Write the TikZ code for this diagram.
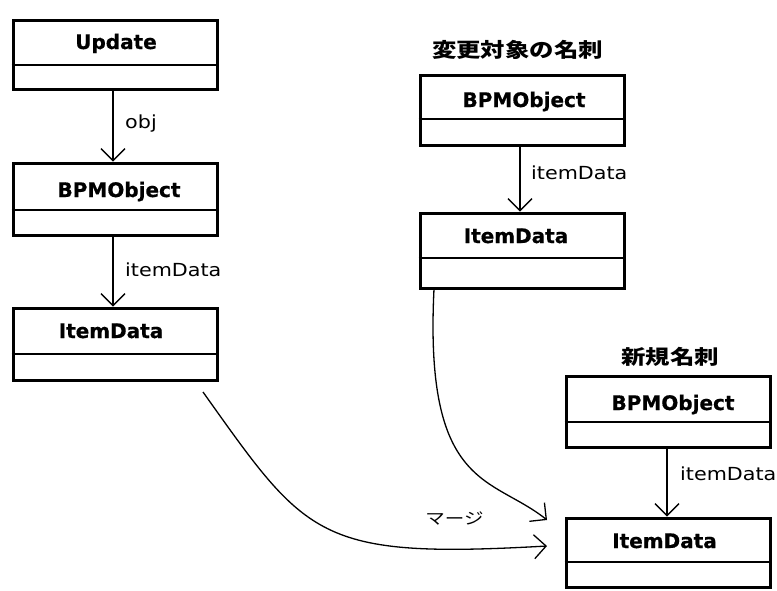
\documentclass[tikz,border=0pt]{standalone}
\usepackage{fontspec}
\usetikzlibrary{arrows.meta}
\newfontfamily\classfont[FakeBold=0.6]{DejaVu Sans Bold}
\newfontfamily\labelfont[FakeStretch=1.15]{DejaVu Sans}
\newfontfamily\jpfont[FakeStretch=1.22]{Noto Sans CJK JP}

\tikzset{
  classbox/.style={draw, line width=3pt, minimum width=204pt, inner sep=0pt, anchor=north west},
  divider/.style={line width=1.2pt},
  classname/.style={font=\classfont\fontsize{20}{24}\selectfont, anchor=base, inner sep=0pt},
  assoc/.style={line width=1.3pt, -{Straight Barb[length=12pt,width=24pt]}},
  rolelabel/.style={font=\labelfont\fontsize{18}{22}\selectfont, anchor=base west, inner sep=0pt},
  grouptitle/.style={font=\jpfont\bfseries\fontsize{20}{24}\selectfont, anchor=base, inner sep=0pt},
  mergelabel/.style={font=\jpfont\fontsize{16}{20}\selectfont, anchor=base, inner sep=0pt},
}

% one class box: #1 name, #2 left, #3 top, #4 height, #5 divider offset below top,
% #6 name x, #7 name baseline, #8 class name
\newcommand\umlclass[8]{%
  \node[classbox, minimum height=#4pt] (#1) at (#2+1.5,#3+1.5) {};
  \draw[divider] ([yshift=-#5pt]#1.north west) -- ([yshift=-#5pt]#1.north east);
  \node[classname] (#1-name) at (#6,#7) {#8};
}

\begin{document}
\begin{tikzpicture}[x=1pt,y=-1pt]
  \fill[white] (0,0) rectangle (777,590);
  \useasboundingbox (0,0) rectangle (777,590);

  % left column: Update -> BPMObject -> ItemData
  \umlclass{upd}{10}{17}{69}{46.5}{116}{49}{Update}
  \umlclass{bpmA}{10}{160}{72}{48.5}{119}{197}{BPMObject}
  \umlclass{itemA}{10}{305}{72}{47.5}{111}{338}{ItemData}

  % card being changed
  \node[grouptitle] (titleB) at (517.5,57) {変更対象の名刺};
  \umlclass{bpmB}{417}{72}{70}{45.5}{524}{107}{BPMObject}
  \umlclass{itemB}{417}{210}{75}{46.5}{516}{243}{ItemData}

  % new card
  \node[grouptitle] (titleC) at (670,364) {新規名刺};
  \umlclass{bpmC}{563}{373}{71}{47.5}{673}{410}{BPMObject}
  \umlclass{itemC}{563}{515}{69}{45.5}{664.5}{548}{ItemData}

  % associations
  \draw[assoc] ([xshift=-2pt]upd.south) -- ([xshift=-2pt]bpmA.north);
  \node[rolelabel] (objlbl) at (125,128) {obj};
  \draw[assoc] ([xshift=-2pt]bpmA.south) -- ([xshift=-2pt]bpmA.south |- itemA.north);
  \node[rolelabel] (roleA) at (125,276) {itemData};
  \draw[assoc] ([xshift=-2pt]bpmB.south) -- ([xshift=-2pt]itemB.north);
  \node[rolelabel] (roleB) at (531,179) {itemData};
  \draw[assoc] ([xshift=-1pt]bpmC.south) -- ([xshift=-1pt]itemC.north);
  \node[rolelabel] (roleC) at (680,480) {itemData};

  % merge flows into the new card's ItemData
  \coordinate (mergeA) at (203,392);
  \coordinate (mergeB) at (434,289);
  \coordinate (intoA) at (547,546);
  \coordinate (intoB) at (547,520);
  \draw[assoc] (mergeA) .. controls (307,538) and (317,559) .. (intoA);
  \draw[assoc] (mergeB) .. controls (424,490) and (492,476) .. (intoB);
  \node[mergelabel] (mergelbl) at (454.5,524) {マージ};
\end{tikzpicture}
\end{document}
